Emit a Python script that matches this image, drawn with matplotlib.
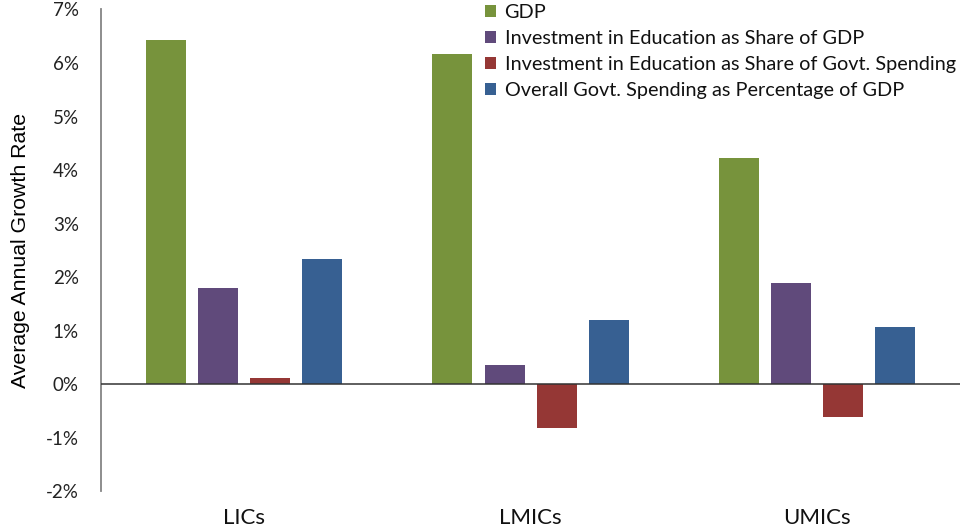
import numpy as np
import matplotlib.pyplot as plt
from matplotlib.ticker import FuncFormatter

# average annual growth rates (%) by income group
groups = ['LICs', 'LMICs', 'UMICs']
series = ['GDP',
          'Investment in Education as Share of GDP',
          'Investment in Education as Share of Govt. Spending',
          'Overall Govt. Spending as Percentage of GDP']
gdp = [6.43, 6.17, 4.22]
edu_gdp = [1.79, 0.36, 1.89]
edu_govt = [0.12, -0.82, -0.61]
govt_gdp = [2.33, 1.20, 1.06]
colors = ['#77933C', '#604A7B', '#953735', '#376092']

fig = plt.figure(figsize=(9.63, 5.27), dpi=100)
ax = fig.add_axes([0.105, 0.068, 0.892, 0.914])

x = np.arange(len(groups))
width = 0.14
step = 0.182
for i, (vals, lab, col) in enumerate(zip([gdp, edu_gdp, edu_govt, govt_gdp], series, colors)):
    ax.bar(x + (i - 1.5) * step, vals, width, color=col, label=lab, zorder=2)

ax.axhline(0, color='#333333', lw=1.1, zorder=3)

ax.set_xlim(-0.5, 2.5)
ax.set_ylim(-2, 7)
ax.set_yticks(range(-2, 8))
ax.yaxis.set_major_formatter(FuncFormatter(lambda v, p: '%d%%' % v))
ax.set_xticks(x)
ax.set_xticklabels(groups, fontsize=16, family='Lato')
for t in ax.get_yticklabels():
    t.set_family('Lato')
ax.tick_params(axis='y', length=0, pad=16, labelsize=13.5, colors='#222222')
ax.tick_params(axis='x', length=0, pad=12, colors='#111111')

for s in ['top', 'right', 'bottom']:
    ax.spines[s].set_visible(False)
ax.spines['left'].set_color('#858585')
ax.spines['left'].set_linewidth(1.3)

ax.set_ylabel('Average Annual Growth Rate', fontsize=15.3, family='Liberation Sans')
ax.yaxis.set_label_coords(-0.083, 0.5)

leg = ax.legend(loc='upper left', bbox_to_anchor=(0.438, 1.028), frameon=False,
                prop={'family': 'Lato', 'size': 14.3}, handlelength=0.55, handleheight=0.55,
                handletextpad=0.42, labelspacing=0.45, borderaxespad=0)
for t in leg.get_texts():
    t.set_color('#111111')

fig.savefig('out.png', dpi=100)
